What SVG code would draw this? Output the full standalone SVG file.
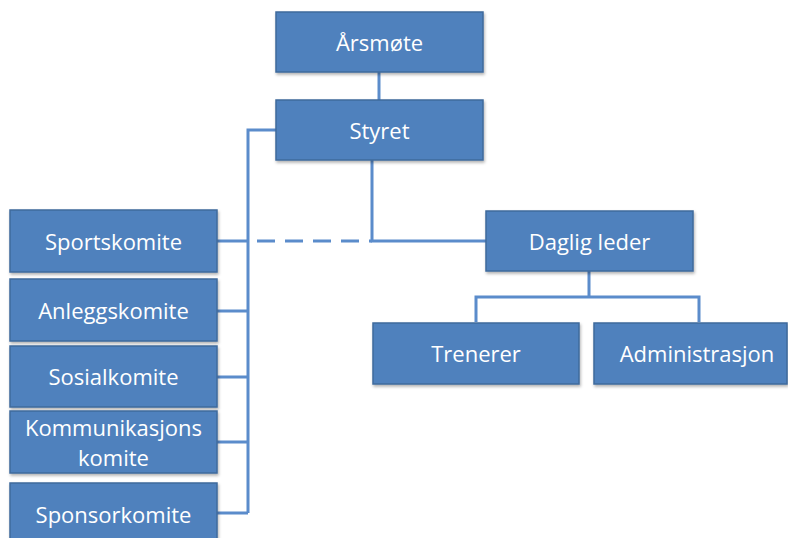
<svg xmlns="http://www.w3.org/2000/svg" width="788" height="538" viewBox="0 0 788 538">
<defs>
<filter id="sh" x="-10%" y="-10%" width="130%" height="140%"><feDropShadow dx="1" dy="2" stdDeviation="1.5" flood-color="#000" flood-opacity="0.3"/></filter>
</defs>
<style>
.box{fill:#4f81bd;stroke:#3f6a9c;stroke-width:1.5;filter:url(#sh)}
.t{fill:#ffffff;font-family:"Open Sans","Liberation Sans",sans-serif;font-size:22px;text-anchor:middle;dominant-baseline:central}
.c{fill:none;stroke:#5b8ccb;stroke-width:3}
</style>
<rect width="788" height="538" fill="#ffffff"/>
<g id="connectors">
<path class="c" d="M379 72V100"/>
<path class="c" d="M276 130H248V513"/>
<path class="c" d="M217 241H248M217 311H248M217 377H248M217 442H248M217 513H248"/>
<path class="c" d="M257 241H372" stroke-dasharray="18,10"/>
<path class="c" d="M372 160V241H486"/>
<path class="c" d="M589 271V297M476 322V297H699V322"/>
</g>
<g id="arsmote"><rect class="box" x="276" y="12" width="207" height="60"/><text class="t" x="379.5" y="42">Årsmøte</text></g>
<g id="styret"><rect class="box" x="276" y="100" width="207" height="60"/><text class="t" x="379.5" y="130">Styret</text></g>
<g id="sportskomite"><rect class="box" x="10" y="210" width="207" height="62"/><text class="t" x="113.5" y="241">Sportskomite</text></g>
<g id="anleggskomite"><rect class="box" x="10" y="279" width="207" height="62"/><text class="t" x="113.5" y="310">Anleggskomite</text></g>
<g id="sosialkomite"><rect class="box" x="10" y="346" width="207" height="61"/><text class="t" x="113.5" y="376">Sosialkomite</text></g>
<g id="kommunikasjonskomite"><rect class="box" x="10" y="411" width="207" height="62"/><text class="t" x="113.5" y="427">Kommunikasjons</text><text class="t" x="113.5" y="457">komite</text></g>
<g id="sponsorkomite"><rect class="box" x="10" y="483" width="207" height="62"/><text class="t" x="113.5" y="514">Sponsorkomite</text></g>
<g id="daglig-leder"><rect class="box" x="486" y="211" width="207" height="60"/><text class="t" x="589.5" y="241">Daglig leder</text></g>
<g id="trenerer"><rect class="box" x="373" y="323" width="206" height="61"/><text class="t" x="476" y="353">Trenerer</text></g>
<g id="administrasjon"><rect class="box" x="594" y="323" width="193" height="61"/><text class="t" x="697" y="353">Administrasjon</text></g>
</svg>
